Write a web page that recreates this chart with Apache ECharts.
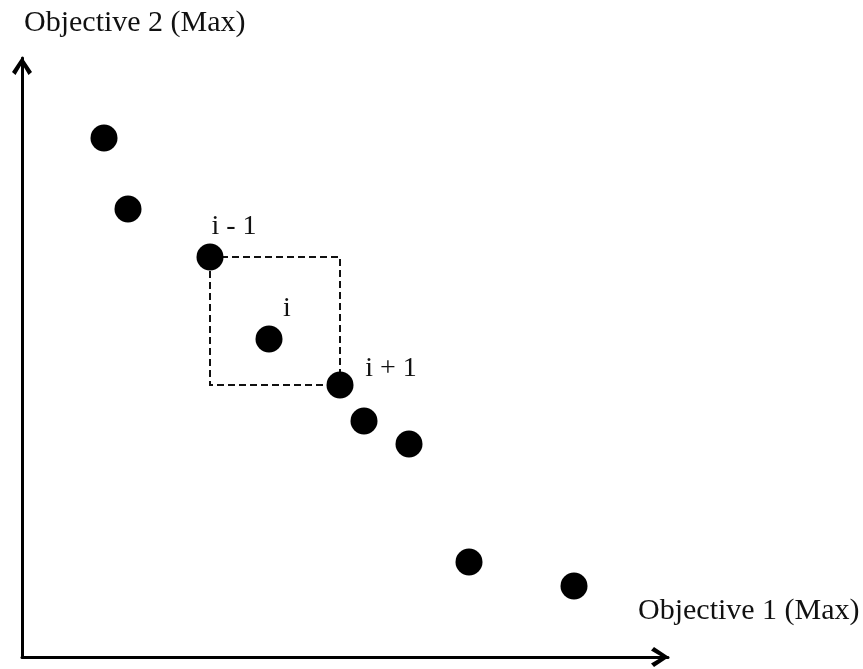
<!DOCTYPE html>
<html>
<head>
<meta charset="utf-8">
<script src="https://cdn.jsdelivr.net/npm/echarts@6/dist/echarts.min.js"></script>
<style>html,body{margin:0;padding:0;background:#fff}#c{width:863px;height:669px}</style>
</head>
<body>
<div id="c"></div>
<script>
// Objective values (arbitrary units)
const obj1 = [82, 106, 188, 247, 318, 342, 387, 447, 552];
const obj2 = [519, 448, 400, 318, 272, 236, 213, 95, 71];
const pointLabels = ['', '', 'i - 1', 'i', 'i + 1', '', '', '', ''];
const xName = 'Objective 1 (Max)';
const yName = 'Objective 2 (Max)';
const prevIdx = 2, nextIdx = 4;

const font = 'Liberation Serif';
const labelOffsets = {2: [24, -30], 3: [18, -30], 4: [51, -16]};
const data = obj1.map((x, k) => {
  const d = {value: [x, obj2[k]]};
  if (pointLabels[k]) {
    d.label = {show: true, formatter: pointLabels[k], position: 'inside', offset: labelOffsets[k],
      fontFamily: font, fontSize: 28, color: '#111'};
  }
  return d;
});
const chevron = 'path://M0,15 L10,0 L20,15 L16.5,18 L10,7 L3.5,18 Z';
const chart = echarts.init(document.getElementById('c'));
chart.setOption({
  animation: false,
  grid: {left: 22, top: 58, width: 646, height: 599},
  xAxis: {
    type: 'value', min: 0, max: 646,
    axisLine: {lineStyle: {color: '#000', width: 3}, symbol: ['none', chevron], symbolSize: [20, 18], symbolOffset: [0, -8]},
    axisTick: {show: false}, axisLabel: {show: false}, splitLine: {show: false},
    name: xName, nameLocation: 'end', nameGap: -30,
    nameTextStyle: {fontFamily: font, fontSize: 30, color: '#111', align: 'left', verticalAlign: 'bottom', padding: [0, 0, 31, 0]}
  },
  yAxis: {
    type: 'value', min: 0, max: 599,
    axisLine: {lineStyle: {color: '#000', width: 3}, symbol: ['none', chevron], symbolSize: [20, 18], symbolOffset: [0, -8]},
    axisTick: {show: false}, axisLabel: {show: false}, splitLine: {show: false},
    name: yName, nameLocation: 'end', nameGap: 35,
    nameTextStyle: {fontFamily: font, fontSize: 30, color: '#111', align: 'left', verticalAlign: 'middle', padding: [0, 0, 0, 2]}
  },
  series: [{
    type: 'scatter',
    symbolSize: 27,
    itemStyle: {color: '#000', opacity: 1},
    data: data,
    z: 3,
    markArea: {
      silent: true,
      itemStyle: {color: 'rgba(0,0,0,0)', borderColor: '#111', borderWidth: 2, borderType: [7, 4]},
      data: [[{coord: [obj1[prevIdx], obj2[prevIdx]]}, {coord: [obj1[nextIdx], obj2[nextIdx]]}]]
    }
  }]
});
</script>
</body>
</html>
